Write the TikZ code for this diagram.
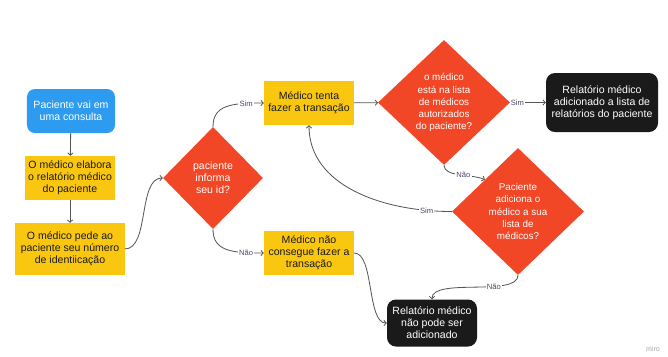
\documentclass[tikz,border=0pt]{standalone}
\usepackage{fontspec}
\setmainfont{Liberation Sans}
\usetikzlibrary{positioning,arrows.meta,shapes.geometric}

\definecolor{miroblue}{HTML}{2D9BF0}
\definecolor{miroyellow}{HTML}{FAC710}
\definecolor{mirored}{HTML}{F24726}
\definecolor{miroblack}{HTML}{1A1A1A}
\definecolor{linegray}{HTML}{555555}
\definecolor{taggray}{HTML}{4A4A68}

\newcommand{\flowfont}{\fontsize{9}{10.3}\selectfont}
\newcommand{\askfont}{\fontsize{8.4}{10.3}\selectfont}
\newcommand{\tagfont}{\fontsize{6.5}{7}\selectfont}

\begin{document}
\begin{tikzpicture}[x=0.03cm, y=-0.03cm,
    startnode/.style={rectangle, rounded corners=0.24cm, fill=miroblue, text=white, align=center, font=\flowfont, minimum width=2.64cm, minimum height=1.32cm, inner sep=1pt},
    stepnode/.style={rectangle, fill=miroyellow, text=miroblack, align=center, font=\flowfont, minimum width=2.7cm, minimum height=1.32cm, inner sep=1pt},
    asknode/.style={diamond, fill=mirored, text=white, align=center, font=\askfont, inner sep=0pt},
    endnode/.style={rectangle, rounded corners=0.27cm, fill=miroblack, text=white, align=center, font=\flowfont, inner sep=1pt},
    link/.style={->, >={Straight Barb[length=2pt,width=4.5pt]}, draw=linegray, line width=0.7pt},
    tag/.style={fill=white, inner sep=1pt, text=taggray, font=\tagfont}
    ]
        \useasboundingbox (0,0) rectangle (668,356);

        %Nodes
        \node[startnode]
            (consulta)      at (71,111)     {Paciente vai em\\uma consulta};
        \node[stepnode, minimum width=2.67cm]
            (elabora)       at (70,178)     {O médico elabora\\o relatório médico\\do paciente};
        \node[stepnode, minimum width=3.27cm, minimum height=1.56cm]
            (pedeid)        at (70,249)     {O médico pede ao\\paciente seu número\\de identiicação};
        \node[asknode, font=\flowfont, minimum width=3cm, minimum height=3.06cm]
            (informa)       at (213,178)    {paciente\\informa\\seu id?};
        \node[stepnode]
            (tenta)         at (309,103)    {Médico tenta\\fazer a transação};
        \node[stepnode]
            (naoconsegue)   at (309,253)    {Médico não\\consegue fazer a\\transação};
        \node[asknode, minimum width=3.96cm, minimum height=3.75cm]
            (nalista)       at (444,102.5)  {o médico\\está na lista\\de médicos\\autorizados\\do paciente?};
        \node[endnode, minimum width=3.36cm, minimum height=1.77cm]
            (adicionado)    at (602,102.5)  {Relatório médico\\adicionado a lista de\\relatórios do paciente};
        \node[asknode, minimum width=3.96cm, minimum height=3.81cm]
            (adiciona)      at (518,211.5)  {Paciente\\adiciona o\\médico a sua\\lista de\\médicos?};
        \node[endnode, minimum width=2.7cm, minimum height=1.41cm]
            (naopode)       at (432,323)    {Relatório médico\\não pode ser\\adicionado};
        \node[text=black!35, font=\fontsize{6}{7}\selectfont]
            (miro)          at (653,349)    {miro};

        %Lines
        \draw[link] (consulta) -- (elabora);
        \draw[link] (elabora) -- (pedeid);
        \draw[link] (pedeid.east) .. controls +(25,0) and +(-25,0) .. (informa.west);
        \draw[link] (informa.north) .. controls +(0,-22) and +(-32,0) ..
            node[tag, pos=0.8] {Sim} (tenta.west);
        \draw[link] (informa.south) .. controls +(0,22) and +(-32,0) ..
            node[tag, pos=0.8] {Não} (naoconsegue.west);
        \draw[link] (tenta) -- (nalista);
        \draw[link] (nalista.east) -- node[tag, pos=0.2] {Sim} (adicionado.west);
        \draw[link] (nalista.south) .. controls +(0,12) and +(-14,-6) ..
            node[tag, pos=0.58] {Não} (adiciona.north west);
        \draw[link] (adiciona.west) .. controls +(-70,0) and +(0,60) ..
            node[tag, pos=0.12] {Sim} (tenta.south);
        \draw[link] (adiciona.south) .. controls +(0,22) and +(0,-22) ..
            node[tag, pos=0.35] {Não} (naopode.north);
        \draw[link] (naoconsegue.east) .. controls +(20,0) and +(-20,0) .. (naopode.west);
    \end{tikzpicture}
\end{document}
